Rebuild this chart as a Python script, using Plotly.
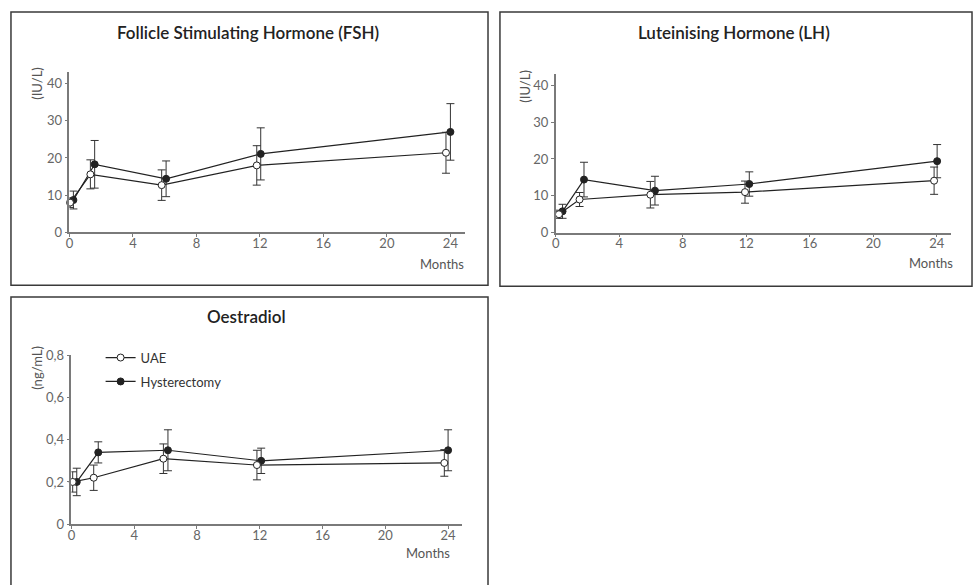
import plotly.graph_objects as go

# ---- data (mean ± SD over follow-up, months) ----
fsh_uae_x = [0.04, 1.32, 5.81, 11.8, 23.72]
fsh_uae_y = [8.0, 15.6, 12.7, 18.0, 21.4]
fsh_uae_err = [1.3, 3.9, 4.1, 5.3, 5.5]
fsh_hyst_x = [0.25, 1.59, 6.09, 12.05, 24.0]
fsh_hyst_y = [8.7, 18.3, 14.4, 21.1, 27.0]
fsh_hyst_err = [2.4, 6.4, 4.8, 7.0, 7.6]

lh_uae_x = [0.2, 1.5, 5.96, 11.92, 23.83]
lh_uae_y = [5.0, 9.0, 10.3, 11.0, 14.1]
lh_uae_err = [1.1, 1.9, 3.6, 3.0, 3.7]
lh_hyst_x = [0.43, 1.78, 6.25, 12.19, 24.02]
lh_hyst_y = [5.8, 14.4, 11.4, 13.2, 19.4]
lh_hyst_err = [1.9, 4.7, 3.9, 3.3, 4.5]

oe_uae_x = [0.08, 1.42, 5.86, 11.82, 23.76]
oe_uae_y = [0.20, 0.22, 0.31, 0.28, 0.29]
oe_uae_err = [0.048, 0.06, 0.07, 0.07, 0.063]
oe_hyst_x = [0.34, 1.71, 6.15, 12.09, 24.0]
oe_hyst_y = [0.20, 0.34, 0.35, 0.30, 0.35]
oe_hyst_err = [0.065, 0.05, 0.097, 0.06, 0.097]

month_ticks = [0, 4, 8, 12, 16, 20, 24]
iu_ticks = [0, 10, 20, 30, 40]
oe_ticks = [0, 0.2, 0.4, 0.6, 0.8]
oe_tick_text = ["0", "0,2", "0,4", "0,6", "0,8"]

W, H = 975, 585
FONT = "Lato"
INK = "#222222"
AXIS = "#7a7a7a"
TICKTXT = "#666666"


def px_x(v):
    return v / W


def px_y(v):
    return 1 - v / H


fig = go.Figure()


def add_group(x, y, err, xa, ya, name, filled, show, rank):
    fig.add_trace(go.Scatter(
        x=x, y=y, xaxis=xa, yaxis=ya, name=name,
        mode="lines+markers",
        line=dict(color=INK, width=1.2),
        marker=dict(symbol="circle", size=7,
                    color=INK if filled else "white",
                    line=dict(color=INK, width=1)),
        error_y=dict(type="data", array=err, visible=True,
                     color="#333333", thickness=1, width=4),
        cliponaxis=False,
        showlegend=show, legendgroup=name, legendrank=rank,
    ))


add_group(fsh_hyst_x, fsh_hyst_y, fsh_hyst_err, "x", "y", "Hysterectomy", True, False, 2)
add_group(fsh_uae_x, fsh_uae_y, fsh_uae_err, "x", "y", "UAE", False, False, 1)
add_group(lh_hyst_x, lh_hyst_y, lh_hyst_err, "x2", "y2", "Hysterectomy", True, False, 2)
add_group(lh_uae_x, lh_uae_y, lh_uae_err, "x2", "y2", "UAE", False, False, 1)
add_group(oe_hyst_x, oe_hyst_y, oe_hyst_err, "x3", "y3", "Hysterectomy", True, True, 2)
add_group(oe_uae_x, oe_uae_y, oe_uae_err, "x3", "y3", "UAE", False, True, 1)

common = dict(
    showline=True, linecolor=AXIS, linewidth=1.5,
    ticks="outside", ticklen=3, tickcolor=AXIS, tickwidth=1,
    showgrid=False, zeroline=False,
    tickfont=dict(family=FONT, size=13, color=TICKTXT),
)

# panel geometry in pixels: (x0, x1, y_bottom, y_top)
panels = {
    "": (65.7, 462.6, 230.7, 66.2),
    "2": (554.0, 951.0, 231.0, 68.0),
    "3": (67.7, 460.1, 530.7, 357.0),
}
y_ranges = {"": [0, 43], "2": [0, 43], "3": [0, 0.8]}

layout_axes = {}
for k, (x0, x1, yb, yt) in panels.items():
    ax = "x" + k
    ay = "y" + k
    layout_axes["xaxis" + k] = dict(
        common, domain=[px_x(x0), px_x(x1)], range=[0, 24.9],
        tickvals=month_ticks, anchor=ay, ticklabelstandoff=-5,
    )
    yax = dict(common, domain=[px_y(yb), px_y(yt)], range=y_ranges[k], anchor=ax)
    if k == "3":
        yax.update(tickvals=oe_ticks, ticktext=oe_tick_text)
    else:
        yax.update(tickvals=iu_ticks)
    layout_axes["yaxis" + k] = yax

# panel frames
frames = [(7, 4, 486, 285), (498, 4, 972, 286), (7, 297, 486, 600)]
shapes = [
    dict(type="rect", xref="paper", yref="paper",
         x0=px_x(a), x1=px_x(c), y0=px_y(d), y1=px_y(b),
         line=dict(color="#3a3a3a", width=1.5), fillcolor="rgba(0,0,0,0)")
    for a, b, c, d in frames
]

annotations = []
titles = [("Follicle Stimulating Hormone (FSH)", 245, 25),
          ("Luteinising Hormone (LH)", 733, 25),
          ("Oestradiol", 244, 317)]
for text, cx, cy in titles:
    annotations.append(dict(text=text, x=px_x(cx), y=px_y(cy), xref="paper", yref="paper",
                            showarrow=False, xanchor="center", yanchor="middle",
                            font=dict(family=FONT, size=17, color=INK, weight=600)))
for cx, cy in [(440, 263), (931, 262), (426, 560)]:
    annotations.append(dict(text="Months", x=px_x(cx), y=px_y(cy), xref="paper", yref="paper",
                            showarrow=False, xanchor="center", yanchor="middle",
                            font=dict(family=FONT, size=13, color="#555555")))
for text, cx, cy in [("(IU/L)", 33, 77), ("(IU/L)", 523, 80), ("(ng/mL)", 33, 370)]:
    annotations.append(dict(text=text, x=px_x(cx), y=px_y(cy), xref="paper", yref="paper",
                            showarrow=False, xanchor="center", yanchor="middle", textangle=-90,
                            font=dict(family=FONT, size=13, color="#555555")))

fig.update_layout(
    width=W, height=H, autosize=False,
    margin=dict(l=0, r=0, t=0, b=0),
    paper_bgcolor="white", plot_bgcolor="white",
    shapes=shapes, annotations=annotations,
    legend=dict(x=px_x(97), y=px_y(344), xanchor="left", yanchor="top",
                traceorder="grouped", tracegroupgap=4, itemwidth=30,
                bgcolor="rgba(0,0,0,0)",
                font=dict(family=FONT, size=13, color="#333333")),
    **layout_axes,
)

fig.write_html("out.html")
